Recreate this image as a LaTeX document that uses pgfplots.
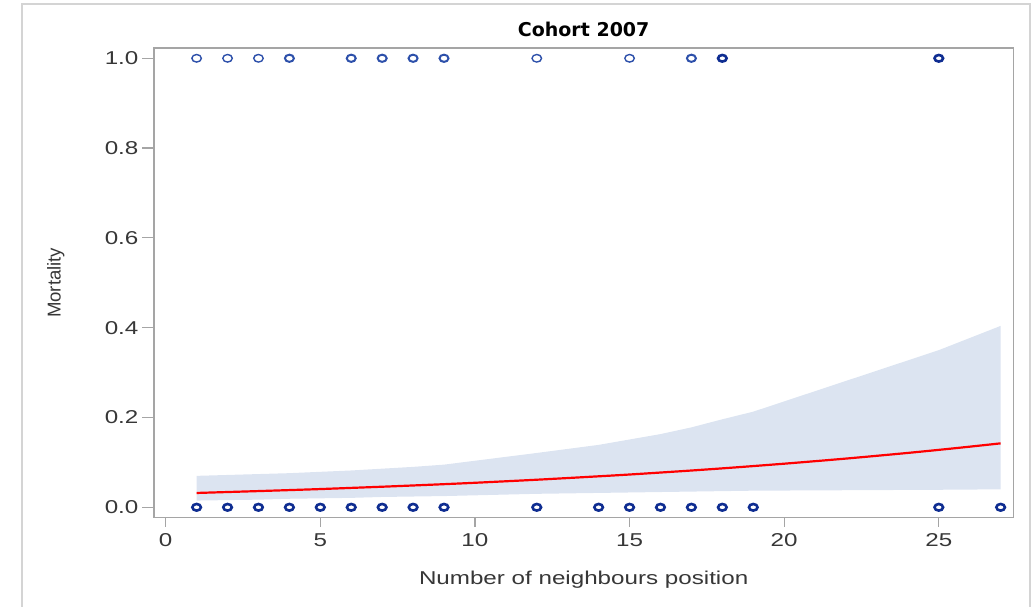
\documentclass[border=0pt]{standalone}
\usepackage{fontspec}
\setmainfont{Liberation Sans}
\newfontfamily\widefont{Liberation Sans}[FakeStretch=1.3]
\newfontfamily\titlefont{DejaVu Sans}
\usepackage{pgfplots}
\pgfplotsset{compat=1.18}

\definecolor{bandfill}{RGB}{220,228,241}
\definecolor{ptthin}{RGB}{45,80,170}
\definecolor{ptthick}{RGB}{15,45,145}
\definecolor{framegray}{RGB}{165,165,165}
\definecolor{outergray}{RGB}{212,212,212}
\definecolor{textgray}{RGB}{55,55,55}
\definecolor{fitred}{RGB}{255,0,0}

\begin{document}
\begin{tikzpicture}
\useasboundingbox (0pt,0pt) rectangle (518pt,303pt);
% outer graph border
\draw[outergray, line width=0.9pt] (11pt,-5pt) -- (11pt,301pt) -- (515pt,301pt) -- (515pt,-5pt);
\begin{axis}[
  at={(77pt,44.15pt)}, anchor=south west,
  scale only axis, width=429.65pt, height=234.85pt,
  xmin=-0.378, xmax=27.41, ymin=-0.0232, ymax=1.0229,
  xtick={0,5,10,15,20,25},
  ytick={0,0.2,0.4,0.6,0.8,1.0},
  xtick pos=left, ytick pos=left,
  minor tick num=0,
  /pgf/number format/assume math mode=true,
  yticklabel style={/pgf/number format/fixed, /pgf/number format/fixed zerofill,
                    /pgf/number format/precision=1},
  tick align=outside,
  axis line style={framegray, line width=0.6pt},
  tick style={framegray, line width=0.6pt},
  xtick style={/pgfplots/major tick length=4.5pt},
  ytick style={/pgfplots/major tick length=6pt},
  ticklabel style={font=\widefont\fontsize{9.3}{11}\selectfont, text=textgray},
  every axis title shift=0pt,
  title={Cohort 2007},
  title style={at={(0.5,1.0404)}, anchor=center,
               font=\titlefont\bfseries\fontsize{9.5}{11}\selectfont},
  xlabel={Number of neighbours position},
  xlabel style={at={(0.5,-0.1326)}, anchor=center,
                font=\widefont\fontsize{9.3}{11}\selectfont, text=textgray},
  ylabel={Mortality},
  ylabel style={at={(-0.1143,0.5)}, anchor=center,
                font=\fontsize{9.3}{11}\selectfont, text=textgray},
  clip=false,
]
% 95% confidence band
\addplot[fill=bandfill, draw=none] coordinates {
  (1,0.070) (2,0.072) (3,0.074) (4,0.076) (5,0.079) (6,0.082) (7,0.086)
  (8,0.090) (9,0.095) (12,0.121) (14,0.139) (15,0.151) (16,0.163)
  (17,0.178) (18,0.196) (19,0.213) (25,0.350) (27,0.404)
  (27,0.040) (25,0.039) (19,0.037) (18,0.036) (17,0.035) (16,0.034)
  (15,0.033) (14,0.032) (12,0.030) (9,0.025) (8,0.024) (7,0.023)
  (6,0.021) (5,0.020) (4,0.019) (3,0.017) (2,0.016) (1,0.015)
} -- cycle;
% fitted probability
\addplot[fitred, line width=1.1pt, smooth] coordinates {
  (1,0.0319) (2,0.0340) (3,0.0361) (4,0.0383) (5,0.0406) (6,0.0432)
  (7,0.0458) (8,0.0486) (9,0.0515) (10,0.0546) (12,0.0614) (14,0.0690)
  (15,0.0730) (16,0.0774) (17,0.0819) (18,0.0867) (19,0.0918) (20,0.0971)
  (21,0.1027) (22,0.1085) (23,0.1147) (24,0.1211) (25,0.1279) (26,0.1350)
  (27,0.1424)
};
% observations (ring weight grows with the number of tied points)
\addplot[only marks, mark=o, mark size=1.9pt,
  mark options={draw=ptthin, line width=0.7pt, xscale=1.25}] coordinates {
  (1,1) (2,1) (3,1) (12,1) (15,1)
};
\addplot[only marks, mark=o, mark size=1.8pt,
  mark options={draw=ptthin, line width=1.0pt, xscale=1.25}] coordinates {
  (4,1) (6,1) (7,1) (8,1) (9,1) (17,1)
};
\addplot[only marks, mark=o, mark size=1.65pt,
  mark options={draw=ptthick, line width=1.3pt, xscale=1.3}] coordinates {
  (18,1) (25,1)
  (1,0) (2,0) (3,0) (4,0) (5,0) (6,0) (7,0) (8,0) (9,0) (12,0)
  (14,0) (15,0) (16,0) (17,0) (18,0) (19,0) (25,0) (27,0)
};
\end{axis}
\end{tikzpicture}
\end{document}
